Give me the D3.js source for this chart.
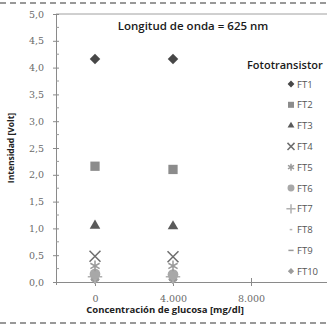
<!DOCTYPE html>
<html>
<head>
<meta charset="utf-8">
<script src="https://cdn.jsdelivr.net/npm/d3@7"></script>
<style>
  body { margin: 0; background: #fff; }
  svg { display: block; }
</style>
</head>
<body>
<div id="vis"></div>
<script>
// data
const concentrations = [0, 4000];
const series = ["FT1", "FT2", "FT3", "FT4", "FT5", "FT6", "FT7", "FT8", "FT9", "FT10"];
const ft1 = [4.16, 4.16];
const ft2 = [2.16, 2.10];
const ft3 = [1.05, 1.04];
const ft4 = [0.48, 0.47];
const ft5 = [0.30, 0.30];
const ft6 = [0.15, 0.14];
const ft7 = [0.10, 0.10];
const ft8 = [0.06, 0.06];
const ft9 = [0.03, 0.03];
const ft10 = [0.05, 0.05];
const yTicks = [0, 0.5, 1, 1.5, 2, 2.5, 3, 3.5, 4, 4.5, 5];
const xTicks = [0, 4000, 8000];

const values = [ft1, ft2, ft3, ft4, ft5, ft6, ft7, ft8, ft9, ft10];

function vis() {
    const width = 327, height = 327;
    const margin = { left: 56, top: 14, right: -2, bottom: 45 };

    const svg = d3.select("#vis")
        .append("svg")
        .attr("width", width)
        .attr("height", height);

    const x = d3.scaleLinear()
        .domain([-2000, 12000])
        .range([margin.left, width - margin.right]);
    const y = d3.scaleLinear()
        .domain([0, 5])
        .range([height - margin.bottom, margin.top]);

    const styles = {
        FT1:  { type: d3.symbolDiamond2, size: 70, fill: "#474747" },
        FT2:  { type: d3.symbolSquare2, size: 110, fill: "#8c8c8c" },
        FT3:  { type: d3.symbolTriangle2, size: 80, fill: "#5a5a5a" },
        FT4:  { type: d3.symbolX, size: 80, stroke: "#6e6e6e" },
        FT5:  { type: d3.symbolAsterisk, size: 80, stroke: "#9a9a9a" },
        FT6:  { type: d3.symbolCircle, size: 90, fill: "#a8a8a8" },
        FT7:  { type: d3.symbolPlus, size: 70, stroke: "#b0b0b0" },
        FT8:  { type: "dash", w: 4, stroke: "#b5b5b5" },
        FT9:  { type: "dash", w: 8, stroke: "#9a9a9a" },
        FT10: { type: d3.symbolDiamond2, size: 60, fill: "#9c9c9c" }
    };

    function drawMarker(g, name, scale) {
        const s = styles[name];
        if (s.type === "dash") {
            g.append("line")
                .attr("x1", -s.w * scale / 2).attr("x2", s.w * scale / 2)
                .attr("stroke", s.stroke).attr("stroke-width", 1.5);
        } else if (s.fill) {
            g.append("path")
                .attr("d", d3.symbol().type(s.type).size(s.size * scale * scale)())
                .attr("fill", s.fill);
        } else {
            g.append("path")
                .attr("d", d3.symbol().type(s.type).size(s.size * scale * scale)())
                .attr("fill", "none")
                .attr("stroke", s.stroke)
                .attr("stroke-width", 1.5);
        }
    }

    // dashed frame lines
    [3, 323].forEach(yy => {
        svg.append("line")
            .attr("x1", 0).attr("x2", width)
            .attr("y1", yy).attr("y2", yy)
            .attr("stroke", "#333")
            .attr("stroke-width", 1.2)
            .attr("stroke-dasharray", "6,4");
    });

    // plot top border
    svg.append("line")
        .attr("x1", x(-2000)).attr("x2", width)
        .attr("y1", y(5)).attr("y2", y(5))
        .attr("stroke", "#a0a0a0");

    // y axis
    const yAxis = svg.append("g")
        .attr("transform", `translate(${x(-2000)},0)`)
        .call(d3.axisLeft(y).tickValues(yTicks).tickSize(3)
            .tickFormat(d => d3.format(".1f")(d).replace(".", ",")));
    yAxis.select(".domain").attr("stroke", "#8a8a8a");
    yAxis.selectAll(".tick line").attr("stroke", "#8a8a8a").attr("x2", 3).attr("x1", -3);
    yAxis.selectAll(".tick text")
        .attr("x", -12)
        .style("font-family", "DejaVu Serif")
        .style("font-size", "9.5px")
        .attr("fill", "#6a6a6a");
    // minor ticks
    yAxis.selectAll(".minor")
        .data(yTicks.slice(0, -1).map(d => d + 0.25))
        .join("line")
            .attr("class", "minor")
            .attr("x1", 0).attr("x2", 3)
            .attr("y1", d => y(d)).attr("y2", d => y(d))
            .attr("stroke", "#9a9a9a");

    // x axis
    const xAxis = svg.append("g")
        .attr("transform", `translate(0,${y(0)})`)
        .call(d3.axisBottom(x).tickValues(xTicks).tickSize(3)
            .tickFormat(d => d3.format(",")(d).replace(",", ".")));
    xAxis.select(".domain").attr("stroke", "#8a8a8a");
    xAxis.selectAll(".tick line").attr("stroke", "#8a8a8a").attr("y1", -4).attr("y2", 4);
    xAxis.selectAll(".tick text")
        .attr("y", 13)
        .style("font-family", "DejaVu Serif")
        .style("font-size", "9.5px")
        .attr("fill", "#6a6a6a");

    // points (last series drawn first so FT1 stays on top)
    series.slice().reverse().forEach(name => {
        const vals = values[series.indexOf(name)];
        concentrations.forEach((c, i) => {
            const g = svg.append("g")
                .attr("transform", `translate(${x(c)},${y(vals[i])})`);
            drawMarker(g, name, 1);
        });
    });

    // title
    svg.append("text")
        .attr("x", 193).attr("y", 30)
        .attr("text-anchor", "middle")
        .style("font-family", "Open Sans")
        .style("font-weight", 600)
        .style("font-size", "11.5px")
        .attr("fill", "#1a1a1a")
        .text("Longitud de onda = 625 nm");

    // axis titles
    svg.append("text")
        .attr("transform", `translate(14,${(y(0) + y(5)) / 2}) rotate(-90)`)
        .attr("text-anchor", "middle")
        .style("font-family", "Open Sans")
        .style("font-weight", 700)
        .style("font-size", "8.5px")
        .attr("fill", "#222")
        .text("Intensidad  [Volt]");
    svg.append("text")
        .attr("x", 165).attr("y", 313)
        .attr("text-anchor", "middle")
        .style("font-family", "Open Sans")
        .style("font-weight", 700)
        .style("font-size", "9.5px")
        .attr("fill", "#222")
        .text("Concentración de glucosa [mg/dl]");

    // legend
    svg.append("text")
        .attr("x", 247).attr("y", 69)
        .style("font-family", "Open Sans")
        .style("font-weight", 600)
        .style("font-size", "11px")
        .attr("fill", "#1a1a1a")
        .text("Fototransistor");

    const legend = svg.selectAll(".legend")
        .data(series)
        .join("g")
            .attr("class", "legend")
            .attr("transform", (d, i) => `translate(291,${84 + i * 20.8})`);
    legend.each(function(d) { drawMarker(d3.select(this), d, 0.65); });
    legend.append("text")
        .attr("x", 6).attr("y", 3.5)
        .style("font-family", "Open Sans")
        .style("font-size", "9.5px")
        .attr("fill", "#555")
        .text(d => d);
}

vis();
</script>
</body>
</html>
